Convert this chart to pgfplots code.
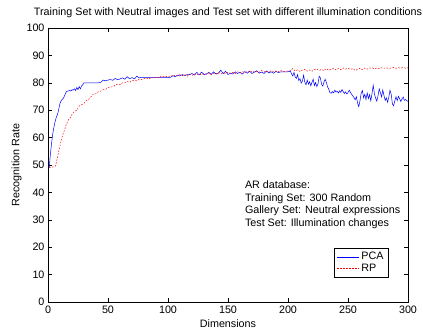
\documentclass[border=0pt]{standalone}
\usepackage{pgfplots}
\pgfplotsset{compat=1.18}
\usepackage{fontspec}
\setmainfont{Liberation Sans}
\begin{document}
\begin{tikzpicture}
\useasboundingbox (-48bp,-30bp) rectangle (375bp,302bp);
\begin{axis}[
  at={(0,0)}, anchor=origin,
  scale only axis, width=360bp, height=274bp,
  xmin=0, xmax=300, ymin=0, ymax=100,
  xtick={0,50,...,300}, ytick={0,10,...,100},
  tick align=inside, major tick length=4bp,
  tick style={black, line width=0.4pt},
  axis line style={line width=0.5pt},
  font=\fontsize{10.8}{12}\selectfont,
  /pgf/number format/assume math mode=true,
  title={Training Set with Neutral images and Test set with different illumination conditions},
  title style={at={(0.5,1)}, anchor=south, yshift=1bp},
  xlabel={Dimensions}, ylabel={Recognition Rate},
  xlabel style={yshift=0bp}, ylabel style={yshift=-2bp},
  legend style={at={(0.945,0.09)}, anchor=south east, draw=black, line width=0.4pt,
    font=\fontsize{10.8}{12}\selectfont, row sep=-1.5pt, inner sep=2.5pt},
  legend cell align=left,
  legend image code/.code={\draw[#1] (0bp,0bp) -- (22bp,0bp);},
]
\addplot[blue, line width=0.5pt] coordinates {
(1,49)(2,54)(3,58)(4,61.5)(5,64)(6,66)(7,67.5)(8,68.5)(9,70.5)(10,72.5)
(11,73.5)(12,74)(13,74.5)(14,75.5)(15,76.5)(16,77)(17,77)(18,77.2)(19,77)(20,77.5)
(21,77.3)(22,77.8)(23,77.2)(24,78.3)(25,77.5)(26,78.6)(27,77.8)(28,78.9)(29,79.3)(30,80)
(32,80)(34,80)(36,80)(38,80)(40,80)(42,80)(44,80.2)(46,81)(48,80.7)(50,81)
(52,81.2)(54,80.9)(56,81.6)(58,81.1)(60,81.4)(62,81.8)(64,81.3)(66,82.2)(68,81.5)(70,81.9)
(72,81.4)(74,82.4)(76,81.8)(78,82)(80,82)(82,82)(84,82)(86,82)(88,82)(90,82)
(92,82)(94,82)(96,82)(98,82)(100,82)(102,82)(104,82.6)(106,82.2)(108,82.8)(110,82.5)
(112,83)(114,82.6)(116,83)(118,83)(120,83.4)(122,82.8)(124,83.8)(126,82.9)(128,83.9)(130,83)
(132,83.2)(134,83.8)(136,83.1)(138,84)(140,83.2)(142,83.5)(144,84.6)(146,83.4)(148,84.2)(150,83)
(152,83.5)(154,83.2)(156,84)(158,83.4)(160,83.8)(162,83.2)(164,84.1)(166,83.5)(168,84.2)(170,83.4)
(172,83.9)(174,84.4)(176,83.5)(178,83.9)(180,83.4)(182,84.3)(184,83.6)(186,84)(188,83.5)(190,84.2)
(192,83.7)(194,84)(196,84)(198,84)(200,84)(202,84.3)(203,83.2)(204,82.5)(205,83.8)(206,82.1)
(207,81.6)(208,83)(209,80.8)(210,81.5)(211,79.9)(212,80.6)(213,82.8)(214,80.2)(215,79.3)(216,81)
(217,79.5)(218,80.4)(219,78.9)(220,80.2)(221,81.3)(222,79)(223,80.1)(224,78.6)(225,79.6)(226,82.4)
(227,81.8)(228,79.4)(229,78.8)(230,80.3)(231,81.3)(232,80.1)(233,78.5)(234,77.6)(235,76.4)(236,76.2)
(237,76.8)(238,76.3)(239,77.3)(240,76.6)(241,76.9)(242,76.3)(243,77.1)(244,76.5)(245,77.5)(246,76.8)
(247,76.1)(248,76.7)(249,75.9)(250,76.4)(251,77.3)(252,76.6)(253,75.8)(254,75.2)(255,74.6)(256,73.8)
(257,74.9)(258,72.6)(259,71.3)(260,73.5)(261,76.2)(262,77.2)(263,74.5)(264,75.8)(265,73.9)(266,76.3)
(267,74.2)(268,75.7)(269,73.4)(270,76.1)(271,79.1)(272,76)(273,74.4)(274,73.3)(275,75.2)(276,77.8)
(277,76.4)(278,74.8)(279,77.4)(280,75.3)(281,73.6)(282,74.5)(283,72.9)(284,74.8)(285,77.3)(286,75.8)
(287,72.3)(288,71.6)(289,73.4)(290,74.9)(291,73.5)(292,75.1)(293,74.2)(294,73.2)(295,74.1)(296,74.8)
(297,73.6)(298,73.9)(299,73.5)(300,73.2)
};
\addlegendentry{PCA}
\addplot[red, line width=0.5pt, dash pattern=on 1.5bp off 1.5bp] coordinates {
(1,49)(2,49)(4,49.3)(6,49.5)(7,51)(8,53)(9,55)(10,57)(11,59)(12,60.5)
(13,62)(14,63)(15,64.5)(16,65.5)(17,66.5)(18,67)(19,67.5)(20,68.5)(22,69.5)(24,70)
(26,71.5)(28,72)(30,72.5)(32,73.5)(34,74)(36,75)(38,76)(40,76)(42,76.8)(44,77)
(46,77.5)(48,77.6)(50,78.2)(52,78.5)(54,78.5)(56,79.2)(58,79.5)(60,79.3)(62,80)(64,80)
(66,80.5)(68,80.2)(70,80.8)(72,80.9)(74,80.7)(76,81.3)(78,81.2)(80,81.5)(82,81.7)(84,81.3)
(86,82)(88,81.8)(90,82.1)(92,81.8)(94,82.4)(96,82.2)(98,82.4)(100,82)(102,82.6)(104,82.4)
(106,82.8)(108,82.5)(110,83)(112,82.6)(114,83)(116,82.4)(118,83.2)(120,82.7)(122,83.3)(124,82.9)
(126,83.2)(128,82.8)(130,83.4)(132,83.2)(134,83.6)(136,83)(138,83.5)(140,83.2)(142,83.8)(144,83.3)
(146,83.6)(148,83.4)(150,83.9)(152,83.5)(154,83.8)(156,83.3)(158,84)(160,83.6)(162,84.1)(164,83.7)
(166,84.2)(168,83.8)(170,84.3)(172,83.9)(174,84.1)(176,83.8)(178,84.5)(180,84)(182,84.2)(184,83.9)
(186,84.4)(188,84.1)(190,84.3)(192,84)(194,84.5)(196,84.1)(198,84.2)(200,84.3)(202,84.4)(204,85.2)
(206,84.3)(208,84.8)(210,84.1)(212,84.6)(214,84.9)(216,84.3)(218,84.7)(220,84.2)(222,84.8)(224,85.1)
(226,84.5)(228,84.9)(230,84.4)(232,85.2)(234,84.6)(236,85)(238,85.3)(240,84.7)(242,85.2)(244,84.8)
(246,85.4)(248,85)(250,85.3)(252,84.9)(254,85.2)(256,84.5)(258,84.9)(260,85.3)(262,84.8)(264,85.4)
(266,85)(268,85.3)(270,85.5)(272,85.1)(274,85.4)(276,85.2)(278,85.5)(280,85.3)(282,85.5)(284,85.2)
(286,85.4)(288,85.6)(290,85.3)(292,85.5)(294,85.4)(296,85.6)(298,85.3)(300,85.5)
};
\addlegendentry{RP}
\node[anchor=north west, align=left, inner sep=0pt, font=\fontsize{10.8}{13}\selectfont]
  at (axis cs:164,44.5) {AR database:\\Training Set: 300 Random\\Gallery Set: Neutral expressions\\Test Set: Illumination changes};
\end{axis}
\end{tikzpicture}
\end{document}
